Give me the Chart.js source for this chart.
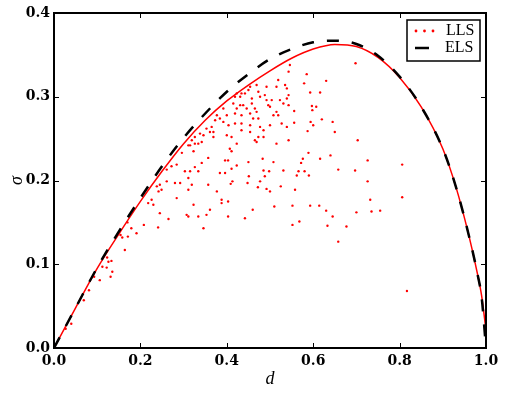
<!DOCTYPE html>
<html>
<head>
<meta charset="utf-8">
<script src="https://cdn.jsdelivr.net/npm/chart.js@4.4.0/dist/chart.umd.min.js"></script>
<style>
  html, body { margin: 0; padding: 0; background: #fff; }
  #wrap { width: 506px; height: 394px; }
</style>
</head>
<body>
<div id="wrap"><canvas id="sigmaChart" width="506" height="394"></canvas></div>
<script>
// LLS scatter (d, sigma)
const llsD = [
  0.543,0.535,0.539,0.519,0.492,0.515,0.469,0.473,0.454,0.450,0.442,0.434,0.423,0.419,0.431,0.458,0.477,0.488,0.492,0.543,
  0.539,0.523,0.504,0.496,0.500,0.531,0.543,0.415,0.431,0.438,0.446,0.423,0.458,0.465,0.392,0.469,0.419,0.434,0.400,0.461,
  0.377,0.384,0.373,0.392,0.404,0.419,0.434,0.454,0.473,0.454,0.508,0.519,0.515,0.527,0.500,0.539,0.365,0.353,0.361,0.369,
  0.338,0.346,0.326,0.319,0.342,0.334,0.326,0.315,0.311,0.369,0.400,0.411,0.423,0.434,0.454,0.465,0.469,0.473,0.485,0.515,
  0.543,0.407,0.411,0.323,0.296,0.477,0.485,
  0.546,0.585,0.579,0.630,0.698,0.593,0.616,0.597,0.607,0.598,0.556,0.556,0.620,0.594,0.600,0.645,0.587,0.650,0.703,
  0.357,0.396,0.403,0.342,0.284,0.272,0.326,0.315,0.303,0.261,0.334,0.384,0.311,0.261,0.280,0.292,0.319,0.245,0.238,0.249,
  0.242,0.311,0.357,0.377,0.396,0.226,0.218,0.230,0.284,0.323,0.245,0.307,0.311,0.361,0.388,0.403,0.388,0.353,0.403,0.334,
  0.265,0.346,
  0.483,0.508,0.450,0.423,0.411,0.589,0.576,0.572,0.640,0.616,0.658,0.531,0.485,0.498,0.566,0.580,0.562,0.590,0.488,0.451,
  0.413,0.409,0.448,0.477,0.472,0.492,0.525,0.500,0.558,0.510,0.552,0.593,0.614,0.460,0.630,0.442,0.645,0.568,0.552,0.633,
  0.677,0.658,
  0.170,0.179,0.208,0.241,0.171,0.158,0.191,0.154,0.164,0.123,0.126,0.133,0.135,0.112,0.122,0.131,0.106,0.093,0.081,0.069,
  0.040,0.027,
  0.726,0.806,0.697,0.726,0.732,0.806,0.700,0.735,0.755,0.817
];
const llsSigma = [
  0.330,0.314,0.310,0.320,0.312,0.312,0.314,0.306,0.312,0.308,0.304,0.304,0.304,0.300,0.300,0.298,0.300,0.302,0.296,0.302,
  0.298,0.296,0.296,0.290,0.288,0.292,0.290,0.292,0.290,0.290,0.286,0.286,0.292,0.286,0.286,0.282,0.280,0.278,0.278,0.274,
  0.278,0.274,0.272,0.270,0.266,0.268,0.268,0.266,0.274,0.280,0.278,0.278,0.282,0.268,0.266,0.264,0.264,0.262,0.258,0.258,
  0.256,0.254,0.252,0.248,0.246,0.244,0.244,0.242,0.242,0.252,0.254,0.252,0.244,0.260,0.258,0.248,0.246,0.252,0.252,0.244,
  0.248,0.238,0.235,0.235,0.233,0.264,0.260,
  0.338,0.327,0.316,0.319,0.340,0.305,0.305,0.289,0.288,0.284,0.283,0.269,0.273,0.270,0.266,0.270,0.259,0.258,0.248,
  0.227,0.224,0.224,0.221,0.219,0.217,0.216,0.211,0.211,0.213,0.211,0.209,0.203,0.199,0.197,0.197,0.195,0.195,0.193,0.189,
  0.187,0.189,0.195,0.187,0.209,0.177,0.173,0.171,0.179,0.171,0.161,0.159,0.157,0.165,0.177,0.175,0.173,0.159,0.157,0.157,
  0.154,0.143,
  0.226,0.222,0.222,0.218,0.214,0.233,0.226,0.221,0.230,0.226,0.213,0.212,0.212,0.211,0.211,0.211,0.206,0.206,0.205,0.205,
  0.199,0.196,0.197,0.199,0.192,0.190,0.193,0.187,0.189,0.169,0.170,0.170,0.170,0.165,0.164,0.155,0.157,0.151,0.147,0.146,
  0.145,0.127,
  0.150,0.143,0.147,0.144,0.133,0.132,0.137,0.135,0.117,0.108,0.103,0.104,0.091,0.097,0.096,0.085,0.081,0.085,0.069,0.057,
  0.029,0.023,
  0.224,0.219,0.212,0.199,0.177,0.180,0.162,0.163,0.164,0.068
];

// envelope curves
const curveD   = [0, 0.05, 0.1, 0.15, 0.2, 0.25, 0.3, 0.35, 0.4, 0.45, 0.5, 0.55, 0.6, 0.65, 0.7, 0.75, 0.8, 0.85, 0.9, 0.93, 0.96, 0.98, 0.99, 1.0];
const llsCurve = [0, 0.048, 0.095, 0.136, 0.175, 0.211, 0.244, 0.272, 0.295, 0.314, 0.331, 0.346, 0.357, 0.3625, 0.360, 0.347, 0.323, 0.288, 0.238, 0.193, 0.135, 0.089, 0.062, 0.021];
const elsCurve = [0, 0.048, 0.096, 0.139, 0.179, 0.217, 0.251, 0.280, 0.306, 0.327, 0.345, 0.357, 0.365, 0.367, 0.363, 0.349, 0.324, 0.288, 0.238, 0.193, 0.135, 0.089, 0.060, 0.0];

const xTicks = [0, 0.2, 0.4, 0.6, 0.8, 1.0];
const yTicks = [0, 0.1, 0.2, 0.3, 0.4];

const tickFont = { family: "'DejaVu Serif', serif", size: 14, weight: 'bold' };
const titleFont = { family: "'Liberation Serif', serif", size: 18, style: 'italic' };

// frame, inward ticks and the boxed legend
const framePlugin = {
  id: 'frame',
  afterDatasetsDraw(chart) {
    const { ctx, chartArea: a, scales } = chart;
    ctx.save();
    ctx.strokeStyle = '#000';
    ctx.lineWidth = 1;
    ctx.beginPath();
    xTicks.forEach(v => {
      const px = Math.round(scales.x.getPixelForValue(v)) + 0.5;
      ctx.moveTo(px, a.bottom); ctx.lineTo(px, a.bottom - 5);
      ctx.moveTo(px, a.top); ctx.lineTo(px, a.top + 5);
    });
    yTicks.forEach(v => {
      const py = Math.round(scales.y.getPixelForValue(v)) + 0.5;
      ctx.moveTo(a.left, py); ctx.lineTo(a.left + 5, py);
      ctx.moveTo(a.right, py); ctx.lineTo(a.right - 5, py);
    });
    ctx.stroke();
    ctx.lineWidth = 2;
    ctx.strokeRect(a.left, a.top, a.right - a.left, a.bottom - a.top);

    // legend box
    const bx = a.right - 79, by = a.top + 7, bw = 73, bh = 41;
    ctx.fillStyle = '#fff';
    ctx.fillRect(bx, by, bw, bh);
    ctx.lineWidth = 1.5;
    ctx.strokeRect(bx, by, bw, bh);
    ctx.fillStyle = 'red';
    [9, 17.5, 26].forEach(dx => {
      ctx.beginPath(); ctx.arc(bx + dx, by + 11, 1.4, 0, Math.PI * 2); ctx.fill();
    });
    ctx.strokeStyle = '#000';
    ctx.lineWidth = 2.5;
    ctx.beginPath(); ctx.moveTo(bx + 8, by + 28); ctx.lineTo(bx + 22, by + 28); ctx.stroke();
    ctx.fillStyle = '#000';
    ctx.font = "16px 'Liberation Serif', serif";
    ctx.textBaseline = 'middle';
    ctx.textAlign = 'left';
    ctx.fillText(chart.data.datasets[0].label, bx + 39, by + 11);
    ctx.fillText(chart.data.datasets[2].label, bx + 38, by + 28);
    ctx.restore();
  }
};

const ctx = document.getElementById('sigmaChart');
new Chart(ctx, {
  type: 'scatter',
  data: {
    datasets: [
      {
        label: 'LLS',
        data: llsD.map((d, i) => ({ x: d, y: llsSigma[i] })),
        pointRadius: 1.2,
        pointBackgroundColor: 'red',
        pointBorderWidth: 0,
        order: 2
      },
      {
        label: 'LLS curve',
        data: curveD.map((d, i) => ({ x: d, y: llsCurve[i] })),
        showLine: true,
        borderColor: 'red',
        borderWidth: 1.5,
        pointRadius: 0,
        cubicInterpolationMode: 'monotone',
        order: 1
      },
      {
        label: 'ELS',
        data: curveD.map((d, i) => ({ x: d, y: elsCurve[i] })),
        showLine: true,
        borderColor: '#000',
        borderWidth: 2.5,
        borderDash: [12, 13],
        pointRadius: 0,
        cubicInterpolationMode: 'monotone',
        order: 0
      }
    ]
  },
  options: {
    responsive: false,
    animation: false,
    devicePixelRatio: 1,
    layout: { padding: { left: 0, right: 20, top: 13, bottom: 0 } },
    plugins: { legend: { display: false }, tooltip: { enabled: false } },
    scales: {
      x: {
        type: 'linear',
        min: 0, max: 1,
        afterBuildTicks: s => { s.ticks = xTicks.map(v => ({ value: v })); },
        afterFit: s => { s.height = 46; },
        grid: { display: false, drawTicks: false },
        border: { display: false },
        ticks: { color: '#000', font: tickFont, padding: 5, maxRotation: 0, callback: v => v.toFixed(1) },
        title: { display: true, text: 'd', color: '#000', font: titleFont, padding: { top: 0, bottom: 4 } }
      },
      y: {
        type: 'linear',
        min: 0, max: 0.4,
        afterBuildTicks: s => { s.ticks = yTicks.map(v => ({ value: v })); },
        afterFit: s => { s.width = 54; },
        grid: { display: false, drawTicks: false },
        border: { display: false },
        ticks: { color: '#000', font: tickFont, padding: 4, callback: v => v.toFixed(1) },
        title: { display: true, text: 'σ', color: '#000', font: titleFont, padding: { top: 6, bottom: 0 } }
      }
    }
  },
  plugins: [framePlugin]
});
</script>
</body>
</html>
